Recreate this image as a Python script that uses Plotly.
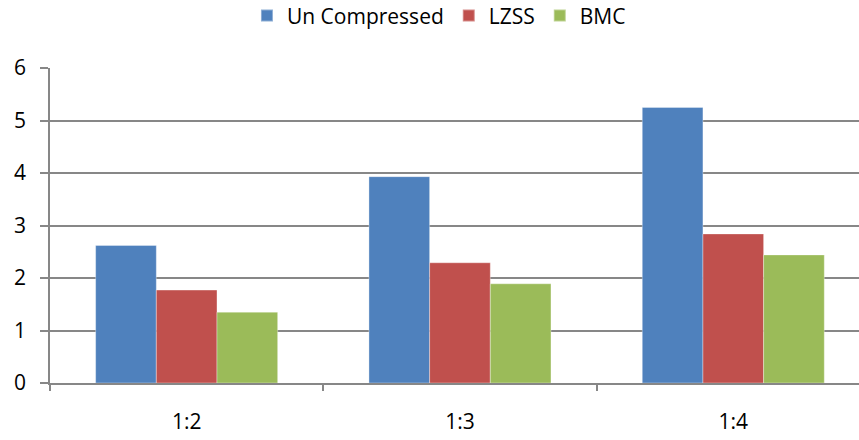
import plotly.graph_objects as go

# Compression ratio categories and measured values per method
categories = ["1:2", "1:3", "1:4"]
uncompressed = [2.62, 3.93, 5.25]
lzss = [1.77, 2.29, 2.84]
bmc = [1.35, 1.89, 2.44]

series = [
    ("Un Compressed", uncompressed, "#4F81BD"),
    ("LZSS", lzss, "#C0504D"),
    ("BMC", bmc, "#9BBB59"),
]

fig = go.Figure()
for name, vals, color in series:
    fig.add_trace(go.Bar(
        name=name, x=categories, y=vals,
        marker=dict(color=color, line=dict(color="rgba(255,255,255,0.35)", width=1)),
    ))

axis_font = dict(family="Open Sans", size=21, color="#000000")

fig.update_layout(
    width=859, height=440,
    margin=dict(l=50, r=0, t=68, b=57),
    paper_bgcolor="white", plot_bgcolor="white",
    barmode="group", bargap=0.334, bargroupgap=0,
    font=dict(family="Open Sans", color="#000000"),
    legend=dict(
        orientation="h",
        xref="container", yref="container",
        x=0.511, xanchor="center",
        y=0.964, yanchor="middle",
        font=dict(family="Open Sans", size=21, color="#000000"),
        itemsizing="constant",
    ),
    xaxis=dict(
        type="category",
        range=[-0.5, 2.46],
        showgrid=False,
        showline=True, linecolor="#878787", linewidth=1.5,
        ticks="outside", tickson="boundaries", ticklen=6,
        tickcolor="#878787", tickwidth=1.5,
        tickfont=axis_font,
        ticklabelstandoff=19,
    ),
    yaxis=dict(
        range=[0, 6],
        dtick=1,
        showgrid=True, gridcolor="#878787", gridwidth=1.5,
        showline=True, linecolor="#878787", linewidth=1.5,
        ticks="outside", ticklen=8, tickcolor="#878787", tickwidth=1.5,
        tickfont=axis_font,
        ticklabelstandoff=10,
        zeroline=False,
    ),
)

fig.write_html("out.html")
